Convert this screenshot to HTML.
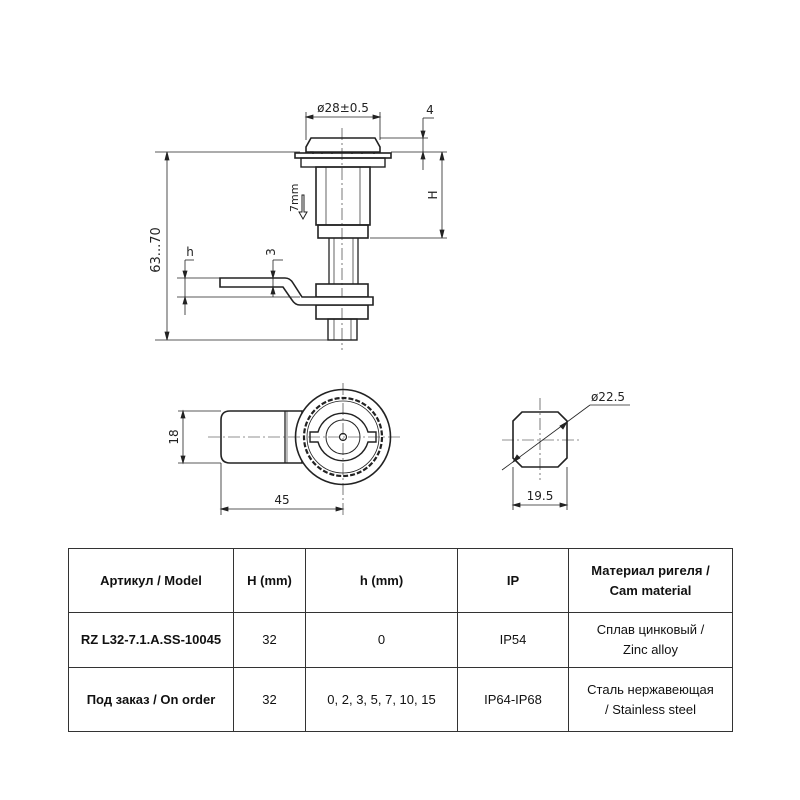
<!DOCTYPE html>
<html><head><meta charset="utf-8"><style>
body{margin:0;background:#fff;width:800px;height:800px;overflow:hidden}
svg{position:absolute;left:0;top:0}
text{font-family:"DejaVu Sans","Liberation Sans",sans-serif;fill:#222}
table{position:absolute;left:68px;top:548px;border-collapse:collapse;table-layout:fixed;width:664px;font-family:"Liberation Sans","DejaVu Sans",sans-serif;font-size:13px;color:#111}
td{border:1.5px solid #333;text-align:center;padding:0;line-height:20px}
tr.h td{font-weight:bold}
</style></head><body>
<svg width="800" height="540" viewBox="0 0 800 540" fill="none" stroke="#222" stroke-width="1.3">
<line x1="342" y1="128" x2="342" y2="350" stroke-width="0.6" stroke-dasharray="12 3 2 3"/>
<path d="M311 138 L375 138 L380 147 L380 152 L306 152 L306 147 Z" stroke-width="1.6"/>
<path d="M310 152 h3 v2 M322 152 v2 M332 152 v2 M352 152 v2 M362 152 v2 M374 152 v2"/>
<rect x="295" y="153" width="96" height="5" stroke-width="1.6"/>
<rect x="301" y="158" width="84" height="9" stroke-width="1.4"/>
<rect x="316" y="167" width="54" height="58" stroke-width="1.6"/>
<line x1="326" y1="167" x2="326" y2="225" stroke-width="0.7"/>
<line x1="360" y1="167" x2="360" y2="225" stroke-width="0.7"/>
<rect x="318" y="225" width="50" height="13" stroke-width="1.6"/>
<line x1="329" y1="238" x2="329" y2="284"/><line x1="358" y1="238" x2="358" y2="284"/>
<line x1="334" y1="238" x2="334" y2="284" stroke-width="0.7"/><line x1="353" y1="238" x2="353" y2="284" stroke-width="0.7"/>
<rect x="316" y="284" width="52" height="13" stroke-width="1.6"/>
<rect x="316" y="305" width="52" height="14" stroke-width="1.6"/>
<rect x="328" y="319" width="29" height="21" stroke-width="1.4"/>
<line x1="334" y1="319" x2="334" y2="340" stroke-width="0.7"/><line x1="351" y1="319" x2="351" y2="340" stroke-width="0.7"/>
<path d="M220 278 L285 278 Q290 278 293 283 L302 297 L373 297 L373 305 L300 305 Q295 305 292 300 L283 287 L220 287 Z" stroke-width="1.6" fill="#fff"/>
<path d="M302 195 v17 h-3 l4 7 l4 -7 h-3 v-17 z" stroke-width="1"/>
<text x="0" y="0" font-size="11" transform="translate(298,212) rotate(-90)" stroke="none">7mm</text>
<g stroke-width="0.8">
<line x1="155" y1="152" x2="300" y2="152"/><line x1="155" y1="340" x2="330" y2="340"/>
<line x1="167" y1="152" x2="167" y2="340"/>
<path d="M167 152 l-2 8 h4 z M167 340 l-2 -8 h4 z" fill="#222"/>
<line x1="370" y1="238" x2="447" y2="238"/><line x1="391" y1="152" x2="447" y2="152"/>
<line x1="442" y1="152" x2="442" y2="238"/>
<path d="M442 152 l-2 8 h4 z M442 238 l-2 -8 h4 z" fill="#222"/>
<line x1="380" y1="138" x2="428" y2="138"/>
<line x1="423" y1="118" x2="423" y2="170"/><line x1="423" y1="118" x2="434" y2="118"/>
<path d="M423 138 l-2 -7 h4 z M423 152 l-2 7 h4 z" fill="#222"/>
<line x1="306" y1="112" x2="306" y2="140"/><line x1="380" y1="112" x2="380" y2="140"/>
<line x1="306" y1="117" x2="380" y2="117"/>
<path d="M306 117 l7 -2 v4 z M380 117 l-7 -2 v4 z" fill="#222"/>
<line x1="177" y1="278" x2="220" y2="278"/><line x1="177" y1="297" x2="300" y2="297"/>
<line x1="185" y1="260" x2="185" y2="315"/><line x1="185" y1="260" x2="194" y2="260"/>
<path d="M185 278 l-2 -7 h4 z M185 297 l-2 7 h4 z" fill="#222"/>
<line x1="273" y1="260" x2="273" y2="297"/><line x1="273" y1="260" x2="283" y2="260"/>
<path d="M273 278 l-2 -7 h4 z M273 287 l-2 7 h4 z" fill="#222"/>
</g>
<g stroke="none" font-size="12">
<text x="343" y="112" text-anchor="middle">ø28±0.5</text>
<text x="430" y="114" text-anchor="middle">4</text>
<text transform="translate(160,250) rotate(-90)" text-anchor="middle" font-size="13">63...70</text>
<text transform="translate(437,195) rotate(-90)" text-anchor="middle">H</text>
<text x="190" y="256" text-anchor="middle">h</text>
<text transform="translate(275,252) rotate(-90)" text-anchor="middle">3</text>
</g>
<path d="M230 411 L302 411 L302 463 L230 463 Q221 463 221 454 L221 420 Q221 411 230 411 Z" stroke-width="1.6"/>
<line x1="285" y1="411" x2="285" y2="463"/><line x1="287" y1="411" x2="287" y2="463" stroke-width="0.6"/>
<circle cx="343" cy="437" r="47.5" stroke-width="1.6" fill="#fff"/>
<circle cx="343" cy="437" r="39" stroke-width="2.2" stroke-dasharray="5 2"/>
<circle cx="343" cy="437" r="36" stroke-width="0.8"/>
<path d="M318 432 A26 26 0 0 1 368 432 L376 432 L376 442 L368 442 A26 26 0 0 1 318 442 L310 442 L310 432 Z" stroke-width="1.4"/>
<circle cx="343" cy="437" r="17" stroke-width="1"/>
<circle cx="343" cy="437" r="3.5" stroke-width="1.2"/>
<line x1="208" y1="437" x2="402" y2="437" stroke-width="0.6" stroke-dasharray="12 3 2 3"/>
<line x1="343" y1="383" x2="343" y2="515" stroke-width="0.6" stroke-dasharray="12 3 2 3"/>
<g stroke-width="0.8">
<line x1="178" y1="411" x2="221" y2="411"/><line x1="178" y1="463" x2="221" y2="463"/>
<line x1="183" y1="411" x2="183" y2="463"/>
<path d="M183 411 l-2 7 h4 z M183 463 l-2 -7 h4 z" fill="#222"/>
<line x1="221" y1="463" x2="221" y2="515"/>
<line x1="221" y1="509" x2="343" y2="509"/>
<path d="M221 509 l7 -2 v4 z M343 509 l-7 -2 v4 z" fill="#222"/>
</g>
<text transform="translate(178,437) rotate(-90)" text-anchor="middle" font-size="12" stroke="none">18</text>
<text x="282" y="504" text-anchor="middle" font-size="12" stroke="none">45</text>
<path d="M522 412 L558 412 L567 421 L567 458 L558 467 L522 467 L513 458 L513 421 Z" stroke-width="1.6"/>
<line x1="502" y1="440" x2="580" y2="440" stroke-width="0.6" stroke-dasharray="12 3 2 3"/>
<line x1="540" y1="398" x2="540" y2="480" stroke-width="0.6" stroke-dasharray="12 3 2 3"/>
<g stroke-width="0.8">
<line x1="502" y1="470" x2="590" y2="405"/><line x1="590" y1="405" x2="630" y2="405"/>
<path d="M513 462 l4 -7 l3 3 z M567 422 l-4 7 l-3 -3 z" fill="#222"/>
<line x1="513" y1="467" x2="513" y2="510"/><line x1="567" y1="467" x2="567" y2="510"/>
<line x1="513" y1="505" x2="567" y2="505"/>
<path d="M513 505 l7 -2 v4 z M567 505 l-7 -2 v4 z" fill="#222"/>
</g>
<text x="608" y="401" text-anchor="middle" font-size="12" stroke="none">ø22.5</text>
<text x="540" y="500" text-anchor="middle" font-size="12" stroke="none">19.5</text>
</svg>
<table>
<colgroup><col style="width:165px"><col style="width:72px"><col style="width:152px"><col style="width:111px"><col style="width:164px"></colgroup>
<tr class="h" style="height:64px"><td>Артикул / Model</td><td>H (mm)</td><td>h (mm)</td><td>IP</td><td>Материал ригеля /<br>Cam material</td></tr>
<tr style="height:55px"><td style="font-weight:bold">RZ L32-7.1.A.SS-10045</td><td>32</td><td>0</td><td>IP54</td><td>Сплав цинковый /<br>Zinc alloy</td></tr>
<tr style="height:64px"><td style="font-weight:bold">Под заказ / On order</td><td>32</td><td>0, 2, 3, 5, 7, 10, 15</td><td>IP64-IP68</td><td>Сталь нержавеющая<br>/ Stainless steel</td></tr>
</table>
</body></html>
